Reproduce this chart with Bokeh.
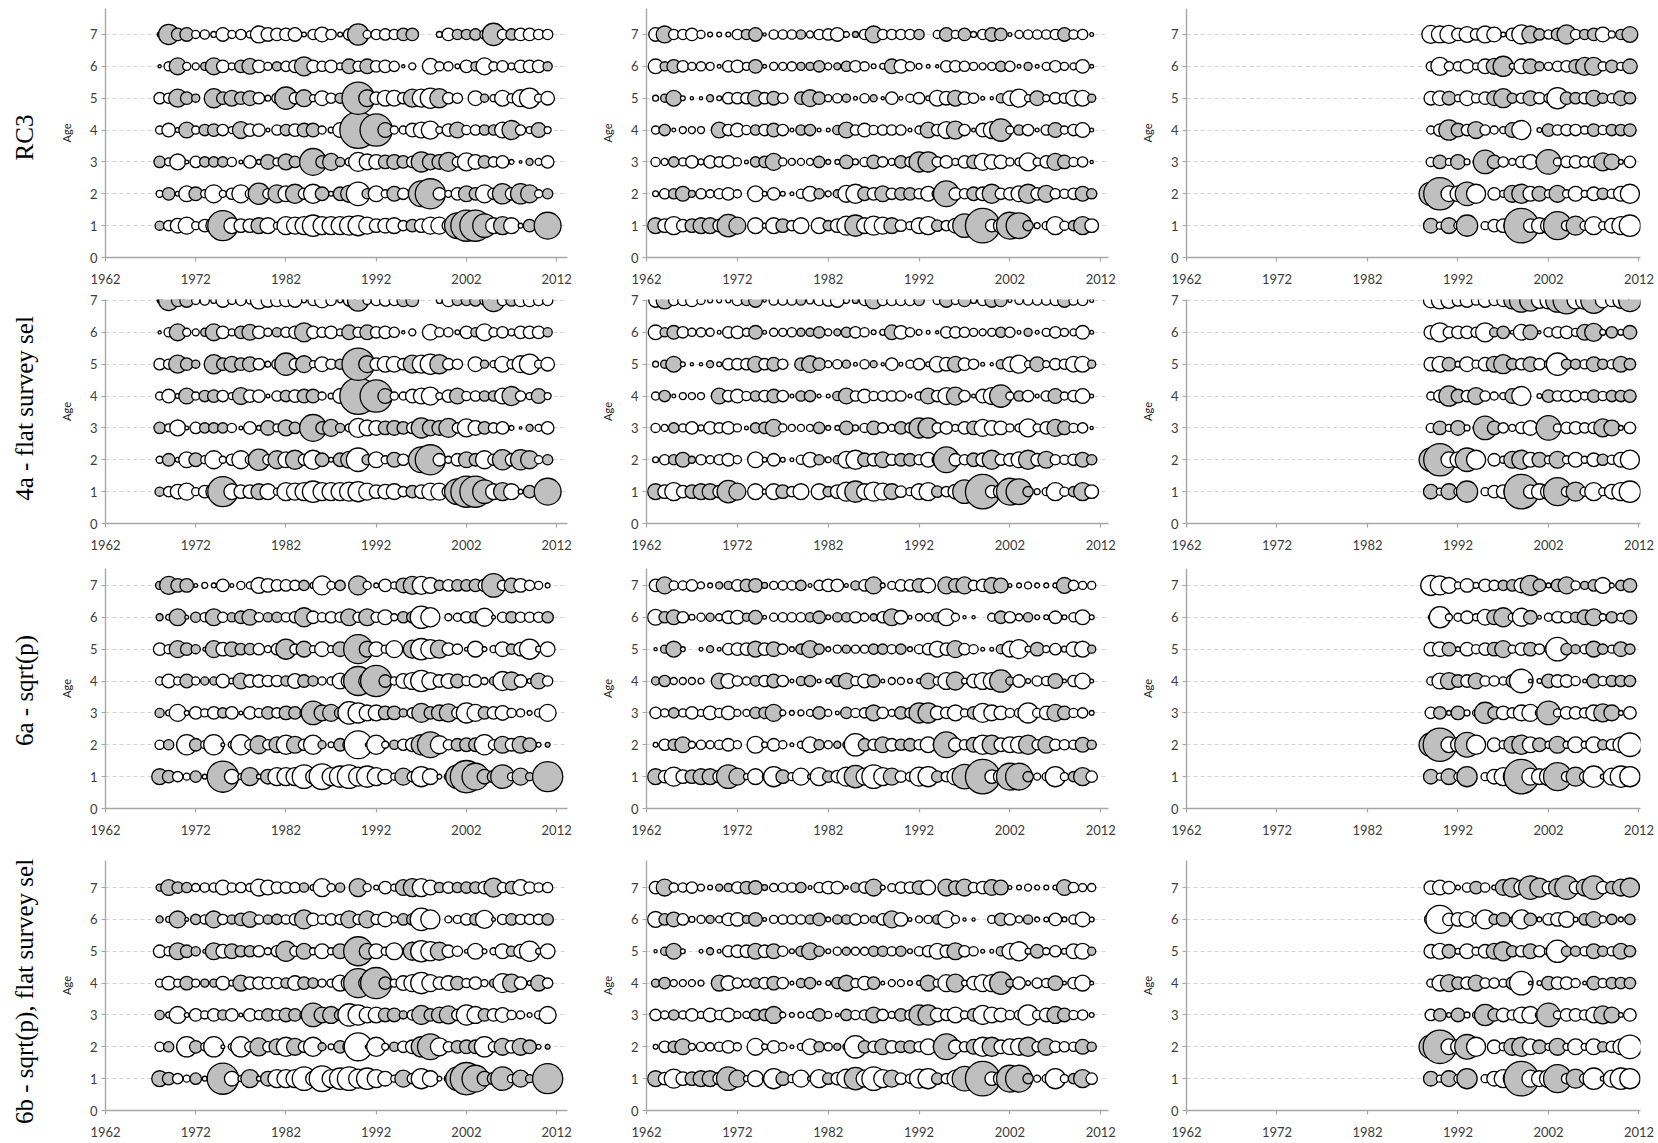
from bokeh.plotting import figure
from bokeh.models import FixedTicker, ColumnDataSource, Range1d
from bokeh.core.properties import value
from bokeh.layouts import column, row
from bokeh.embed import file_html
from bokeh.resources import INLINE
import math

# ---------------- data ----------------
years_c1 = list(range(1968, 2012))
years_c2 = list(range(1963, 2012))
years_c3 = list(range(1989, 2012))
ages = [1, 2, 3, 4, 5, 6, 7]
y_ticks = [0, 1, 2, 3, 4, 5, 6, 7]
x_ticks = [1962, 1972, 1982, 1992, 2002, 2012]
row_labels = ["RC3", "4a - flat survey sel", "6a - sqrt(p)", "6b - sqrt(p), flat survey sel"]

# residuals (positive = grey, negative = white), column 1: 1968-2011
rc3_c1_a7 = [0.3, 1.7, 1.0, 1.1, -0.6, -0.7, -0.4, -1.1, -0.6, -0.8,
             -0.5, -1.4, -1.1, -1.0, -1.0, -1.1, -0.3, -0.8, -1.2, -0.8,
             -0.3, -0.9, 1.8, -0.6, -0.8, -0.9, -0.8, 1.0, 1.0, 0,
             0, -0.4, -1.0, 0.8, 0.8, 0.9, -0.7, 1.9, -0.8, 0.9,
             -1.0, -1.0, -0.8, -0.8]
rc3_c1_a6 = [-0.15, -0.7, 1.4, -0.6, -0.5, 0.6, 1.4, -1.0, -0.5, 1.0,
             1.3, -1.0, -0.6, 0.7, -0.8, -1.0, 1.6, -1.0, -0.8, -1.0,
             -0.5, 1.2, -0.8, 1.2, -0.9, -1.0, -0.8, -0.15, -0.5, 0,
             -1.3, -0.7, -0.7, -0.3, -1.0, 0.7, -1.4, -0.7, -0.9, -0.5,
             -1.0, -1.0, -1.0, 0.7]
rc3_c1_a5 = [-0.9, -0.8, 1.5, 1.0, 0.6, 0, 1.6, 1.0, 1.3, 1.0,
             1.2, -0.9, -0.4, -0.8, 1.9, -0.9, 1.4, -0.5, -1.2, -0.8,
             0.8, -0.6, 2.8, 1.4, -1.0, -1.3, -1.3, -0.9, 1.5, -1.5,
             -1.7, 1.6, -0.9, -0.8, 0, -1.2, 0.6, -0.5, -1.3, -0.7,
             -1.4, -1.7, -0.6, -1.1]
rc3_c1_a4 = [-0.6, -1.1, -0.3, 1.3, -0.6, 0.9, 1.0, -0.9, -0.5, 1.4,
             -1.0, -1.0, -0.2, -0.8, 0.9, -1.0, 1.1, 1.1, -0.6, -0.4,
             -1.2, -1.0, 3.2, -0.8, 2.8, 1.2, -0.6, -0.6, -1.1, -1.3,
             -1.5, -0.5, -1.0, 1.3, -0.7, -0.8, 0.8, 0.8, -1.3, 1.6,
             -0.8, -0.5, 1.2, -0.5]
rc3_c1_a3 = [0.9, -0.6, -1.3, -0.2, -0.9, 0.8, 0.8, 0.8, -0.7, -0.2,
             -1.0, -0.3, 1.2, -0.6, 1.3, 0.9, 0, 2.3, 1.0, 1.4,
             0.7, -0.6, -1.6, -1.3, -1.2, 1.1, 1.2, 1.0, -0.9, 1.7,
             1.3, 1.2, 1.6, -0.8, -1.5, -1.2, 1.0, -0.8, -1.0, -0.3,
             -0.1, 0.5, -0.5, -1.0]
rc3_c1_a2 = [-0.5, 1.0, -0.3, -1.3, 1.1, -0.6, -1.5, -0.5, -0.9, -1.5,
             -0.7, 1.8, -0.8, 1.5, -1.3, 1.6, -0.9, -1.6, 1.1, -0.3,
             1.1, 1.4, -2.0, 0.8, -1.3, -0.6, 1.2, -0.9, -0.6, 2.2,
             2.6, -1.0, -0.5, -1.0, 1.3, 1.0, -1.5, -0.9, 1.7, -1.0,
             1.7, 1.5, -0.6, 0.8]
rc3_c1_a1 = [0.7, -0.8, -1.2, -1.4, -0.6, -1.0, -1.3, 2.6, -1.3, -1.1,
             -1.1, 1.3, -1.3, -0.5, -1.5, -1.4, -1.5, -1.8, -1.5, -1.5,
             -1.5, -1.6, -1.7, -1.4, -1.1, -1.2, -1.3, -0.8, 1.0, -1.1,
             -1.4, -1.4, -1.0, 2.2, 2.7, 2.7, 2.0, -1.3, 1.5, -1.3,
             -0.3, 1.0, -0.5, 2.3]

# column 2: 1963-2011
rc3_c2_a7 = [-1.1, 1.4, -0.8, -0.8, -1.0, -0.6, -0.3, -0.3, -0.3, -0.8,
             0.8, 1.1, -0.15, -0.7, -0.7, -0.7, 0.7, -0.5, -0.8, -0.9,
             -1.1, -0.4, 0.4, -0.8, 1.4, -0.8, -0.8, -0.8, -0.8, 0.8,
             0, -0.6, 1.1, -0.6, 1.0, -0.4, -0.8, 1.1, 1.0, -0.2,
             -0.6, -0.7, -0.7, -0.7, -0.8, 1.1, -0.7, -0.8, -0.2]
rc3_c2_a6 = [-1.2, 0.7, 1.1, -0.9, -0.6, -0.7, -0.6, -0.2, -0.9, -1.0,
             -0.6, 1.1, -0.2, -0.6, -0.6, -0.7, 0.6, 0.6, 0.9, -0.5,
             0.5, 0.8, -0.9, -0.7, -0.3, -0.4, 1.2, -1.1, -0.7, -0.4,
             -0.2, -0.15, -0.9, -0.9, -0.8, -0.6, -0.5, -0.6, 0.8, -0.8,
             -0.2, 0.6, -0.2, -0.6, -0.9, -0.6, -0.5, -1.1, -0.2]
rc3_c2_a5 = [-0.4, 0.6, 1.3, -0.3, -0.15, -0.15, 0.5, -0.3, -0.9, -0.9,
             -0.9, 1.3, -0.9, 1.1, -0.8, 0, 1.0, 1.4, 1.0, -0.5,
             -0.7, 0.6, -0.2, -0.7, 0.5, -0.15, -1.0, -0.2, -0.6, -0.9,
             -0.3, -1.3, -1.1, 1.3, -1.0, -0.8, -0.2, -0.15, 0.7, -1.2,
             -1.5, -0.5, 1.2, -0.5, -0.9, -0.8, -1.3, -1.3, 0.6]
rc3_c2_a4 = [-0.6, 0.9, -0.2, -0.5, -0.5, -0.5, 0, 1.3, -0.9, -1.1,
             -0.7, 0.8, -0.9, 1.1, -0.9, -0.2, 0.8, 0.9, -0.2, -0.2,
             0.7, 1.3, -0.8, -1.1, -0.7, -0.8, -0.8, -0.8, -0.2, -0.6,
             1.3, -0.9, -1.4, 1.5, -0.9, -0.2, -1.1, -1.4, 1.9, -0.6,
             0.8, -0.9, -0.2, -0.8, 1.2, -0.6, -0.9, -1.2, -0.2]
rc3_c2_a3 = [-0.7, -0.5, 0.8, -0.6, -1.0, -0.4, -1.0, -0.8, -1.0, -0.6,
             -0.2, 0.8, 0.9, 1.4, -0.6, -0.5, -0.5, -0.5, 0.9, -0.3,
             -0.3, 1.1, -0.4, -0.7, 1.1, -0.8, -0.5, 1.0, -0.8, 1.7,
             1.7, -0.8, -1.0, -0.5, -1.0, 1.1, -1.4, -1.2, -1.1, -0.6,
             -0.6, -1.5, -0.6, -1.0, 1.4, 1.1, -0.7, -0.8, -0.15]
rc3_c2_a2 = [-0.4, -0.8, 0.8, 1.2, 0.5, -0.8, -0.6, -0.8, -1.0, -0.6,
             0, -1.3, -0.3, -1.0, -0.3, -0.2, -0.7, -1.2, 0.8, -0.4,
             0.6, -1.4, -1.6, 1.1, -1.0, 1.3, -0.9, 1.0, 1.0, -0.8,
             -1.2, -0.8, 2.2, -1.0, -0.8, 1.1, -1.1, 1.6, -0.9, -1.0,
             -1.3, 1.6, -1.0, 1.4, -0.8, -0.7, -0.9, 1.2, 0.8]
rc3_c2_a1 = [1.3, -1.1, -1.5, -1.0, 1.1, 1.3, 1.3, -1.0, 1.9, 1.4,
             0, -1.3, -0.3, -1.3, 1.1, -0.8, -1.3, 0, -1.3, 0.8,
             -1.1, -1.6, 1.8, -1.3, -1.6, -1.4, 1.3, -0.9, -0.6, -1.3,
             -1.5, 0.9, -0.8, -1.2, 2.0, -1.3, 3.0, -1.0, -1.2, 2.3,
             2.2, 0.8, -0.4, -0.6, -1.5, -0.7, 0.8, 1.5, -1.1]

# column 3: 1989-2011
rc3_c3_a7 = [-1.5, -1.4, -1.5, -1.0, -1.3, -0.9, -1.4, -1.2, -0.3, -1.0,
             -1.6, 1.4, 0.9, -0.7, 1.0, 1.6, -0.8, 0.8, 1.0, -1.2, -0.5, 0.8, 1.3]
rc3_c3_a6 = [-0.7, -1.5, -0.7, -0.7, -1.1, -0.5, -1.2, 1.3, 1.7, -0.4,
             -1.2, 1.2, 0.7, -0.6, -0.8, -0.9, 1.1, 1.5, 1.5, -0.7, 1.0, -0.6, 1.2]
rc3_c3_a5 = [-1.1, -1.2, 1.1, -0.5, -1.2, -0.7, -1.0, 1.2, 1.6, 0.8,
             -0.8, 1.2, -0.9, -0.7, -1.8, 1.0, 0.9, -0.9, 1.3, 0.8, -0.7, 1.2, 0.9]
rc3_c3_a4 = [-0.6, -1.0, 1.7, 1.1, -0.9, 1.4, -0.8, -0.6, -0.5, 1.2,
             -1.6, 0, -0.3, 1.0, -0.8, -0.9, -0.9, -0.6, 1.0, -0.7, 0.9, 0.9, 1.0]
rc3_c3_a3 = [-0.7, 1.1, -0.5, 1.2, -0.4, -0.4, 2.0, 1.1, -0.8, -0.5,
             -0.9, -1.2, -0.5, 2.1, -0.6, -0.9, -1.0, -0.8, -0.9, 1.5, 1.3, -0.3, -0.9]
rc3_c3_a2 = [2.0, 2.8, -1.3, -1.3, 2.0, -1.6, 0, -1.0, -0.5, 1.4,
             1.6, -1.2, 1.2, -0.6, 1.4, -0.6, -1.2, -0.5, -1.1, 0.9, -0.7, -1.2, -1.6]
rc3_c3_a1 = [1.2, -0.5, 1.3, -0.6, 1.8, 0, -0.6, -1.0, -1.1, -1.4,
             3.0, -1.1, -1.3, -1.3, 2.4, -0.8, 1.6, -0.7, -1.5, -0.6, -1.2, -1.5, -1.8]

# 4a - flat survey sel, column 3, ages 5-7 (ages 1-4 read the same as RC3)
fs_c3_a7 = [-1.2, -1.4, -1.3, -0.9, -1.1, -0.7, -1.1, -0.8, -1.0, 1.4,
            2.0, 1.8, -1.3, -1.4, 2.0, 2.3, -1.4, -1.5, 2.2, -1.2, -1.0, -1.3, 1.9]
fs_c3_a6 = [-1.1, -1.6, -0.9, -1.0, -1.0, -0.8, -1.6, 0.7, 1.0, -0.2,
            -1.3, 1.2, -0.15, -0.7, -0.9, -1.0, -0.6, 1.3, 1.5, -0.4, 0.9, -0.4, 1.1]
fs_c3_a5 = [-1.1, -1.3, 1.1, -0.4, -1.2, -0.6, -1.1, 1.3, 1.6, 0.9,
            -0.9, 1.2, -0.9, -0.6, -1.9, 0.8, 0.8, -0.7, 1.2, 0.8, -0.7, 1.3, 0.9]

# 6a - sqrt(p)
sq_c1_a7 = [0.6, 1.5, 1.1, 1.1, -0.2, -0.4, -0.3, -1.0, -0.2, -0.6,
            -0.5, -1.3, -1.1, -0.9, -0.9, -0.8, 0.8, -0.4, -1.6, -0.6,
            0.8, 0, 1.6, -0.6, -0.3, -1.0, -0.5, 1.2, 1.5, -1.5,
            -1.3, 0.8, -0.9, 0.9, 0.9, 1.0, -1.0, 2.0, -0.8, 1.2,
            -1.1, -0.8, -0.6, -0.3]
sq_c1_a6 = [0.5, -0.4, 1.4, -0.2, 0.8, -0.7, 1.4, -0.8, 0.7, 1.0,
            1.3, -0.7, 0.7, 0.8, -0.7, -0.9, 1.6, -1.0, -0.7, -0.9,
            -0.8, 1.4, -0.8, 1.4, -0.8, -1.2, -0.5, 0.9, 0.9, -1.9,
            -1.6, 0, -0.5, -0.6, -0.9, 0.9, -1.5, -0.2, -0.8, 0.9,
            -0.8, -0.8, -0.8, 0.9]
sq_c1_a5 = [-1.0, -0.7, 1.4, 1.0, 0.7, -0.2, 1.4, -1.1, 1.2, 0.9,
            0.9, -0.9, -0.5, -0.9, 1.7, -0.8, 1.3, -0.5, -1.2, -0.5,
            1.2, -0.7, 2.5, 1.3, -1.2, -0.6, -1.4, 0, 1.5, -1.8,
            -1.6, 1.5, -1.0, -0.8, -0.2, -1.3, -0.3, -0.5, -1.2, 0.8,
            -1.1, -1.7, -0.4, -1.2]
sq_c1_a4 = [-0.6, -1.1, -0.6, 1.1, -0.6, 0.6, 0.6, -1.1, -0.4, 1.3,
            -1.0, -1.0, -0.9, -0.9, 0.8, -1.2, 1.0, 0.8, -0.6, -0.6,
            -1.3, -1.3, 2.5, -1.4, 2.7, 1.0, -0.6, -1.2, -1.4, -1.8,
            -1.4, -1.0, -1.2, 1.1, -0.7, -1.0, -0.5, 0.6, -1.6, 1.5,
            -1.0, -0.3, 1.3, -0.8]
sq_c1_a3 = [0.7, -0.4, -1.4, -0.3, -1.0, -0.6, -1.0, 0.8, -1.0, -0.2,
            -1.0, -0.7, 1.0, -0.8, 1.1, 1.0, -0.6, 2.0, 1.3, 1.4,
            0.9, -1.9, -1.7, -1.3, -1.3, 1.1, 1.1, 0.6, -0.8, 1.6,
            1.0, 1.3, 1.5, -0.9, -1.7, -1.4, 1.0, -1.0, -1.2, -0.7,
            -0.6, -0.3, -0.6, -1.4]
sq_c1_a2 = [-0.7, 0.8, 0, -1.7, 1.0, -0.6, -1.7, -0.2, -0.5, -1.7,
            -0.8, 1.5, -0.8, 1.3, -1.6, 1.4, -0.9, -1.6, 0.6, -0.4,
            1.0, 1.0, -2.4, -0.2, -1.6, -0.5, 0.7, -0.9, -1.1, 1.7,
            2.2, -1.5, -0.8, 1.0, 1.1, 1.1, -1.7, -0.8, 1.4, -1.0,
            1.4, 1.1, -0.3, 0.3]
sq_c1_a1 = [1.3, 1.0, -0.8, -0.5, 0.9, -0.3, -0.3, 2.7, -1.2, -0.4,
            1.5, -0.3, 1.2, -1.5, -1.5, -1.5, -2.0, -1.2, -2.2, -1.5,
            -1.8, -2.0, -1.6, -1.8, -1.5, -1.2, -0.5, 1.4, -0.8, -1.7,
            -1.3, -0.3, -0.6, 2.0, 2.8, 2.3, 1.2, 1.0, 2.0, -0.6,
            1.4, 0.6, -0.5, 2.6]

sq_c2_a7 = [-1.0, 1.4, -0.7, -0.7, -0.9, -0.5, -0.3, 0.5, 0.6, -0.9,
            1.0, 1.1, 0.4, -0.6, -0.7, -0.7, 0.8, -0.2, -0.8, -1.0,
            -1.0, -0.2, 0.7, -0.9, 1.4, -0.3, -0.6, -0.9, -0.9, 1.1,
            -1.2, 0, 1.4, 1.1, 1.4, -0.8, -1.0, 1.3, 1.2, -0.2,
            -0.3, -0.5, -0.3, -0.3, -0.3, 1.3, -0.8, -0.6, -0.6]
sq_c2_a6 = [-1.3, 0.9, 1.2, -0.9, -0.4, -0.6, 0.6, -0.5, -1.0, -1.1,
            0.6, 1.1, -0.2, -0.6, -0.7, -0.7, -0.7, 0.7, 1.0, -0.3,
            0.7, 0.7, -0.9, -0.6, 0.5, -0.9, 1.4, -1.1, -0.2, -0.5,
            -0.6, 0.7, -1.4, -0.6, -0.15, -0.15, 0, -0.6, 1.0, -0.9,
            -0.5, 0.7, -0.3, -0.3, -1.0, -0.3, -0.7, -1.2, -0.3]
sq_c2_a5 = [-0.15, 0.6, 1.3, -0.3, 0, -0.2, 0.5, -0.2, -0.9, -1.0,
            -1.0, 1.3, -1.0, 1.2, -0.8, -0.3, 0.8, 1.4, 0.8, -0.3,
            -0.6, 0.6, -0.6, -0.6, 0.8, 0.8, -0.7, 0.8, -0.3, -0.7,
            -0.9, -1.3, -1.0, 1.4, -0.9, -0.7, -0.2, -0.2, 0.7, -1.3,
            -1.6, -0.4, 1.1, -0.5, -0.9, -0.4, -1.2, -1.3, 0.6]
sq_c2_a4 = [0.6, 0.9, -0.5, -0.5, -0.5, -0.4, 0, 1.3, -1.2, -0.8,
            -0.6, 0.8, -0.9, 1.1, -0.9, -0.2, 0.7, 0.9, -0.2, -0.3,
            0.9, 1.3, -0.7, -1.1, 1.0, -0.2, -0.5, -0.5, -0.3, -0.3,
            1.3, -0.6, -1.4, 1.5, -0.4, -1.1, -1.4, -1.4, 1.9, 0.6,
            -1.0, -0.3, -0.8, -0.7, 1.2, -0.2, -0.9, -1.3, -0.2]
sq_c2_a3 = [-0.9, -0.6, 0.8, -0.6, -1.0, -0.5, -1.1, -0.7, -1.1, -0.5,
            -0.5, 0.9, 0.9, 1.4, -0.4, -0.3, -0.4, -0.5, 1.0, -0.5,
            -0.2, 0.9, -0.7, -0.8, 1.3, -0.9, -0.5, 1.0, -0.8, 1.7,
            1.7, -1.1, -0.9, -1.3, -0.6, 1.0, -1.6, -1.3, -1.1, -0.7,
            -0.7, -1.7, -0.7, -1.1, 1.4, 1.1, -0.7, -0.8, -0.3]
sq_c2_a2 = [-0.3, -0.9, 0.9, 1.3, -0.5, -0.7, -0.6, -0.7, -1.0, -0.6,
            0, -1.4, -0.4, -1.0, -0.6, -0.2, -0.5, -1.3, 0.8, -0.6,
            0.5, -0.5, -1.9, 1.0, -0.9, 1.3, -1.0, 0.9, 1.0, -0.8,
            -1.3, -0.6, 2.2, -1.1, -0.8, 1.2, -1.6, 1.6, -1.1, -1.3,
            -1.4, 1.6, -0.8, 1.4, -0.9, -0.8, -0.7, 1.2, 0.7]
sq_c2_a1 = [1.3, -1.0, -1.6, -1.1, 1.1, 1.3, 1.3, -1.0, 2.0, 1.4,
            -0.4, -1.3, -0.3, -1.7, 1.1, -0.6, -1.4, -0.3, -1.5, 0.9,
            -1.0, -1.6, 1.9, -1.4, -2.0, -1.5, 1.4, -0.9, -0.7, -1.6,
            -1.7, 0.9, -0.8, -1.4, 2.1, -1.3, 3.0, -1.1, -1.2, 2.3,
            2.3, 0.8, -0.5, -0.6, -1.7, -0.6, 0.8, 1.5, -0.9]

sq_c3_a7 = [-1.7, -1.6, -1.3, -0.5, -1.1, -0.4, -1.0, -0.8, 0.8, 0.9,
            -1.2, 1.7, 1.0, -0.3, 1.0, 1.4, -0.7, 0.6, 0.9, -1.3, -0.3, 0.8, 1.1]
sq_c3_a6 = [-0.3, -1.8, -0.5, -0.6, -1.0, -0.5, -1.3, 1.2, 1.6, -0.6,
            -1.5, 1.1, -0.2, -0.6, -0.9, -0.9, 0.8, 1.2, 1.4, -0.5, 0.9, -0.6, 1.1]
sq_c3_a5 = [-1.1, -1.2, 1.1, -0.3, -1.1, -0.7, -1.0, 1.1, 1.4, -0.6,
            -1.0, 1.1, -0.8, -0.6, -2.0, 0.9, 0.7, -0.7, 1.3, 0.8, -0.6, 1.2, 0.8]
sq_c3_a4 = [-0.6, -1.3, 1.4, 1.0, -1.0, 1.3, -0.8, -0.8, -0.6, 1.0,
            -2.0, -0.2, -0.3, 1.1, -1.0, -1.0, -0.7, -0.2, 1.1, -0.7, 0.9, 0.9, 0.9]
sq_c3_a3 = [-0.9, 1.0, -0.3, 1.1, -0.4, -0.5, 1.8, 1.0, -1.1, -0.8,
            -1.3, -1.4, -0.6, 2.0, -0.6, -1.0, -1.0, -0.8, -1.3, 1.5, 1.3, -0.3, -1.0]
sq_c3_a2 = [2.0, 2.9, -1.3, -1.2, 2.1, -1.6, 0, -1.1, -0.6, 1.4,
            1.6, -1.3, 1.1, -0.5, 1.4, -0.5, -1.3, -0.5, -1.3, 0.8, -0.9, -1.3, -2.0]
sq_c3_a1 = [1.2, -0.5, 1.3, -0.6, 1.7, 0, -0.6, -1.2, -1.5, -1.5,
            3.0, -1.4, -1.3, -1.5, 2.4, -0.8, 1.6, -0.8, -1.8, -0.3, -1.4, -1.8, -1.7]

# 6b - sqrt(p), flat survey sel (other ages read the same as 6a)
sqf_c1_a7 = [0.5, 1.3, 0.9, 0.8, -0.6, -0.7, -0.7, -1.2, -0.7, -0.8,
             -0.6, -1.4, -1.2, -0.9, -0.9, -0.8, 0.7, -0.4, -1.5, -0.6,
             0.7, 0, 1.5, -0.6, -0.3, -1.0, -0.5, 1.3, 1.5, -1.5,
             -1.2, 0.8, -0.9, 0.8, 0.9, 0.9, -1.0, 1.6, -0.8, 1.0,
             -1.3, -0.9, -0.7, -0.8]
sqf_c3_a7 = [-1.1, -1.2, -1.0, -0.3, -0.7, 1.0, -0.7, -0.3, 1.3, 1.6,
             -1.2, 2.0, 1.6, -1.0, 1.5, 2.0, -1.0, 1.4, 2.0, -1.0, 1.0, 1.4, 1.6]
sqf_c3_a6 = [-1.0, -2.4, -1.0, -1.1, -1.3, -0.6, -1.6, 0.8, 1.1, -0.3,
             -1.6, 1.0, -0.3, -0.9, -1.1, -1.3, -0.3, 0.9, 1.3, -0.5, 0.8, -0.3, 0.8]

rc3 = [
    [rc3_c1_a1, rc3_c1_a2, rc3_c1_a3, rc3_c1_a4, rc3_c1_a5, rc3_c1_a6, rc3_c1_a7],
    [rc3_c2_a1, rc3_c2_a2, rc3_c2_a3, rc3_c2_a4, rc3_c2_a5, rc3_c2_a6, rc3_c2_a7],
    [rc3_c3_a1, rc3_c3_a2, rc3_c3_a3, rc3_c3_a4, rc3_c3_a5, rc3_c3_a6, rc3_c3_a7],
]
flat = [
    rc3[0],
    rc3[1],
    [rc3_c3_a1, rc3_c3_a2, rc3_c3_a3, rc3_c3_a4, fs_c3_a5, fs_c3_a6, fs_c3_a7],
]
sqrtp = [
    [sq_c1_a1, sq_c1_a2, sq_c1_a3, sq_c1_a4, sq_c1_a5, sq_c1_a6, sq_c1_a7],
    [sq_c2_a1, sq_c2_a2, sq_c2_a3, sq_c2_a4, sq_c2_a5, sq_c2_a6, sq_c2_a7],
    [sq_c3_a1, sq_c3_a2, sq_c3_a3, sq_c3_a4, sq_c3_a5, sq_c3_a6, sq_c3_a7],
]
sqrtp_flat = [
    [sq_c1_a1, sq_c1_a2, sq_c1_a3, sq_c1_a4, sq_c1_a5, sq_c1_a6, sqf_c1_a7],
    sqrtp[1],
    [sq_c3_a1, sq_c3_a2, sq_c3_a3, sq_c3_a4, fs_c3_a5, sqf_c3_a6, sqf_c3_a7],
]
all_rows = [rc3, flat, sqrtp, sqrtp_flat]
col_years = [years_c1, years_c2, years_c3]

# ---------------- layout / style ----------------
POS = "#bfbfbf"
NEG = "#ffffff"
SIZE_BASE = 1.5
SIZE_PER_UNIT = 11.0
AXIS_COL = "#a6a6a6"
TXT_COL = "#3c3c3c"
TICK_FONT = "Lato"

LABEL_W = 44              # width of the strip holding the row labels
LABEL_X = 23.5            # centre of the labels inside that strip
label_page_y = [137, 408, 690, 991]   # vertical centres of the row labels (from the top)
row_h = [291, 266, 285, 300]
row_top = [7.815, 7.03, 7.53, 7.85]
row_bt = [8, 8, 11, 18]
row_bb = [34, 34, 34, 32]
row_stand = [12, 12, 12, 12]
col_w = [586 - LABEL_W, 540, 531]
col_bl = [105 - LABEL_W, 60, 60]
col_br = [19, 18, 17]
col_xend = [2013.2, 2012.85, 2012.17]
TOTAL_H = sum(row_h)


def make_label_strip():
    p = figure(width=LABEL_W, height=TOTAL_H, x_range=Range1d(0, LABEL_W),
               y_range=Range1d(TOTAL_H, 0),
               output_backend="svg", toolbar_location=None,
               x_axis_type=None, y_axis_type=None,
               min_border_left=0, min_border_right=0, min_border_top=0, min_border_bottom=0)
    p.outline_line_color = None
    p.grid.visible = False
    src = ColumnDataSource(dict(x=[LABEL_X] * len(row_labels), y=label_page_y, t=row_labels))
    p.text("x", "y", text="t", source=src, angle=math.pi / 2,
           text_align="center", text_baseline="middle",
           text_font=value("Liberation Serif"), text_font_size="25px", text_color="black")
    return p


def make_panel(years, series, ri, ci):
    p = figure(width=col_w[ci], height=row_h[ri],
               x_range=Range1d(1962, col_xend[ci]), y_range=Range1d(0, row_top[ri]),
               output_backend="svg", toolbar_location=None,
               min_border_left=col_bl[ci], min_border_right=col_br[ci],
               min_border_top=row_bt[ri], min_border_bottom=row_bb[ri])
    p.outline_line_color = None
    p.background_fill_color = "white"
    p.border_fill_color = "white"
    p.xgrid.visible = False
    p.ygrid.ticker = FixedTicker(ticks=ages)
    p.ygrid.grid_line_color = "#d4d4d4"
    p.ygrid.grid_line_dash = "4 3"
    p.ygrid.grid_line_width = 1

    for ax in (p.xaxis[0], p.yaxis[0]):
        ax.axis_line_color = AXIS_COL
        ax.axis_line_width = 1.4
        ax.major_tick_line_color = AXIS_COL
        ax.major_tick_line_width = 1.2
        ax.major_tick_out = 4
        ax.major_tick_in = 0
        ax.minor_tick_line_color = None
        ax.major_label_text_font = TICK_FONT
        ax.major_label_text_font_size = "13px"
        ax.major_label_text_color = TXT_COL
    p.xaxis.ticker = FixedTicker(ticks=x_ticks)
    p.xaxis.major_label_standoff = row_stand[ri]
    p.yaxis.ticker = FixedTicker(ticks=y_ticks)
    p.yaxis.major_label_standoff = 4
    p.yaxis.axis_label = "Age"
    p.yaxis.axis_label_text_font = TICK_FONT
    p.yaxis.axis_label_text_font_size = "11px"
    p.yaxis.axis_label_text_font_style = "normal"
    p.yaxis.axis_label_text_color = "#222222"
    p.yaxis.axis_label_standoff = 14

    xs, ys, sz, fc = [], [], [], []
    for age, vals in zip(ages, series):
        assert len(vals) == len(years), (ri, ci, age, len(vals), len(years))
        for yr, v in zip(years, vals):
            if v == 0:
                continue
            xs.append(yr)
            ys.append(age)
            sz.append(SIZE_BASE + SIZE_PER_UNIT * abs(v))
            fc.append(POS if v > 0 else NEG)
    src = ColumnDataSource(dict(x=xs, y=ys, s=sz, c=fc))
    p.scatter("x", "y", size="s", fill_color="c", line_color="black",
              line_width=1.3, marker="circle", source=src)
    return p


rows = []
for ri, panels in enumerate(all_rows):
    figs = [make_panel(col_years[ci], panels[ci], ri, ci) for ci in range(3)]
    rows.append(row(*figs))
layout = row(make_label_strip(), column(*rows))

open("out.html", "w").write(file_html(layout, INLINE))
